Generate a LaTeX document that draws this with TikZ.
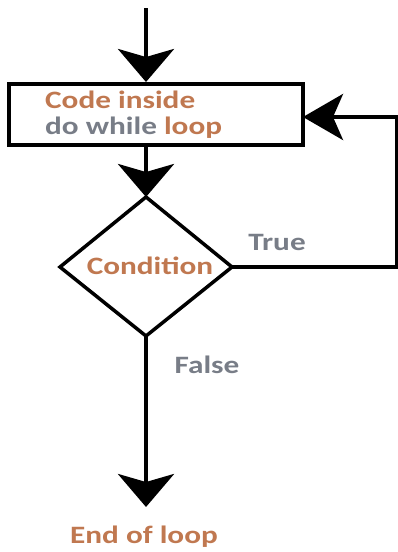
\documentclass[tikz,border=0pt]{standalone}
\usepackage{fontspec}
\newfontfamily\lblfont[FakeStretch=1.25]{Carlito}
\usetikzlibrary{arrows.meta}
\definecolor{lblorange}{RGB}{192,120,80}
\definecolor{lblgrey}{RGB}{120,125,135}
\tikzset{
  flow/.style={line width=4.5pt, -{Stealth[length=33pt,width=56pt,inset=8pt]}},
  back/.style={line width=4pt, -{Stealth[length=40pt,width=46pt,inset=10pt]}},
  blk/.style={draw, line width=3.5pt},
  lbl/.style={font=\lblfont\bfseries\fontsize{25}{30}\selectfont, inner sep=0pt}
}
\begin{document}
\begin{tikzpicture}[x=1pt,y=-1pt]
\useasboundingbox (0,0) rectangle (398,552);
\coordinate (start) at (146,8);
\node[blk, minimum width=294pt, minimum height=61pt, inner sep=0pt] (box) at (156,114.5) {};
\node[lbl, anchor=west, text=lblorange] (t1) at (45,100) {Code inside};
\node[lbl, anchor=west] (t2) at (45,128) {\textcolor{lblgrey}{do while} \textcolor{lblorange}{loop}};
\draw[blk, line join=miter] (146,197) coordinate (dtop) -- (232,267) coordinate (dright) -- (146,336) coordinate (dbot) -- (60,267) coordinate (dleft) -- cycle;
\node[lbl, text=lblorange] (cond) at (150,266) {Condition};
\node[lbl, text=lblgrey] (true) at (277,242) {True};
\node[lbl, text=lblgrey] (false) at (207,365) {False};
\node[lbl, text=lblorange] (end) at (144,537) {End of loop};
\coordinate (endtip) at (146,507);
\coordinate (corner1) at (397,267);
\coordinate (corner2) at (397,117);
\draw[flow] (start) -- (146,82);
\draw[flow] (146,145) -- (dtop);
\draw[flow] (dbot) -- (endtip);
\draw[back, line join=miter] (dright) -- (corner1) -- (corner2) -- (303,117);
\end{tikzpicture}
\end{document}
